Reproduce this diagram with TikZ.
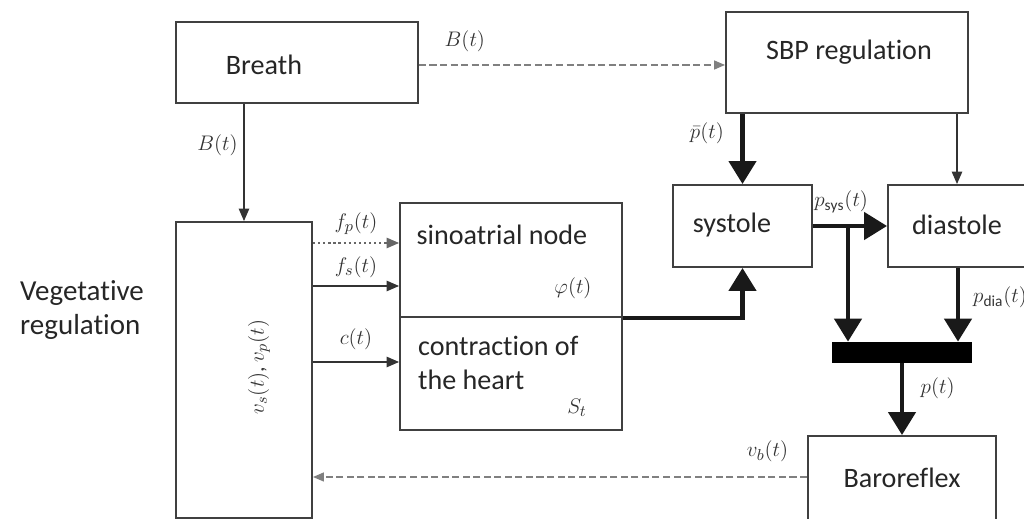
\documentclass[tikz,border=0pt]{standalone}
\usepackage{fontspec}
\setmainfont{Carlito}[Ligatures=NoCommon]
\usetikzlibrary{arrows.meta,positioning,calc}
\tikzset{
  block/.style={draw=black!75, line width=1.1pt, fill=white, inner sep=0pt},
  thinflow/.style={-{Triangle[length=2.5mm,width=2.1mm]}, black!80, line width=0.7pt},
  dashflow/.style={-{Triangle[length=2.2mm,width=1.8mm]}, black!50, line width=0.8pt, dash pattern=on 4pt off 2pt},
  dotflow/.style={thinflow, black!60, dash pattern=on 1.3pt off 1.6pt},
  thickflow/.style={-{Triangle[length=4.6mm,width=5.4mm]}, line width=2.6pt, black!90},
  sig/.style={font=\fontsize{12.5}{14}\selectfont, black!80},
  txt/.style={font=\fontsize{16}{19}\selectfont, black!85}
}

\begin{document}
\begin{tikzpicture}[x=0.02cm,y=-0.02cm]
  \useasboundingbox (0,0) rectangle (1024,519);
  % blocks
  \node[block, minimum width=4.84cm, minimum height=1.62cm] (breath) at (297,62.5) {};
  \node[block, minimum width=4.84cm, minimum height=2.02cm] (sbp) at (847,62.5) {};
  \node[block, minimum width=2.72cm, minimum height=5.92cm] (veg) at (244,370) {};
  \node[block, minimum width=4.44cm, minimum height=2.28cm] (sa) at (511,260) {};
  \node[block, minimum width=4.44cm, minimum height=2.26cm] (contr) at (511,373.5) {};
  \node[block, minimum width=2.78cm, minimum height=1.64cm] (systole) at (742.5,226) {};
  \node[block, minimum width=2.84cm, minimum height=1.64cm] (diastole) at (959,226) {};
  \node[fill=black, inner sep=0pt, minimum width=2.8cm, minimum height=0.42cm] (mix) at (902,352.5) {};
  \node[block, minimum width=3.76cm, minimum height=1.78cm] (baro) at (902,480.5) {};
  % texts
  \node[txt] at (264,65) {Breath};
  \node[txt] at (849,52) {SBP regulation};
  \node[txt, font=\fontsize{16.5}{19.5}\selectfont, align=left, anchor=west] at (14,310) {Vegetative\\regulation};
  \node[txt] at (502,235) {sinoatrial node};
  \node[sig] at (573,288) {$\varphi(t)$};
  \node[txt, align=left, anchor=west] at (412,363) {contraction of\\the heart};
  \node[sig] at (577,408) {$S_t$};
  \node[txt] at (732,225) {systole};
  \node[txt] at (957,225) {diastole};
  \node[txt] at (902,478) {Baroreflex};
  \node[sig, rotate=90] at (259,367) {$v_s(t)$, $v_p(t)$};
  % flows
  \draw[dashflow] (breath.east |- 0,65) -- (sbp.west |- 0,65) node[sig, pos=0.15, above=4pt] {$B(t)$};
  \draw[thinflow] (breath.south -| veg.north) -- (veg.north) node[sig, pos=0.35, left] {$B(t)$};
  \draw[thickflow] (sbp.south -| systole.north) -- (systole.north) node[sig, pos=0.28, left=6pt] {$\bar{p}(t)$};
  \draw[thinflow] (sbp.south -| 957,0) -- (diastole.north -| 957,0);
  \draw[dotflow] (veg.east |- 0,243) -- (sa.west |- 0,243) node[sig, midway, above=1pt] {$f_p(t)$};
  \draw[thinflow] (veg.east |- 0,286) -- (sa.west |- 0,286) node[sig, midway, above=1pt] {$f_s(t)$};
  \draw[thinflow] (veg.east |- 0,362) -- (contr.west |- 0,362) node[sig, midway, above=3pt] {$c(t)$};
  \draw[thickflow] (sa.south east) -| (systole.south);
  \draw[thickflow] (systole.east) -- (systole.east -| diastole.west) node[sig, pos=0.38, above=3pt] {$p_{\mathrm{sys}}(t)$};
  \draw[thickflow] (systole.east -| 848,0) -- (mix.north -| 848,0);
  \draw[thickflow] (diastole.south -| 958,0) -- (mix.north -| 958,0) node[sig, pos=0.4, right=4pt] {$p_{\mathrm{dia}}(t)$};
  \draw[thickflow] (mix.south) -- (baro.north -| mix.south) node[sig, pos=0.35, right=6pt] {$p(t)$};
  \draw[dashflow] (baro.west |- 0,477) -- (veg.east |- 0,477) node[sig, pos=0.08, above=5pt] {$v_b(t)$};
\end{tikzpicture}
\end{document}
